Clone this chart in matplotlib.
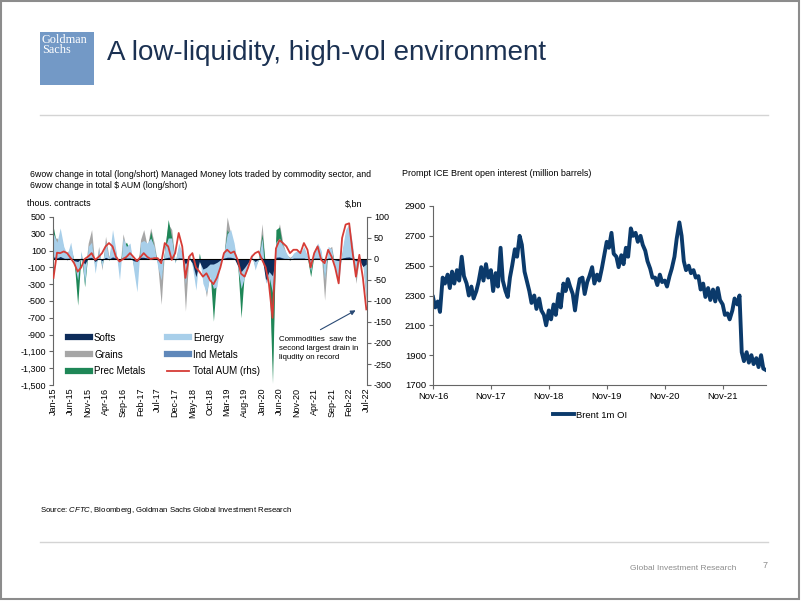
import numpy as np
import pandas as pd
import matplotlib
matplotlib.use("Agg")
import matplotlib.pyplot as plt
import matplotlib.dates as mdates
from matplotlib.lines import Line2D
from matplotlib.patches import Rectangle
from matplotlib.ticker import FuncFormatter

plt.rcParams['font.family'] = ['Liberation Sans', 'DejaVu Sans']
plt.rcParams['mathtext.fontset'] = 'custom'
plt.rcParams['mathtext.rm'] = 'Liberation Sans'
plt.rcParams['mathtext.it'] = 'Liberation Sans:italic'
plt.rcParams['axes.unicode_minus'] = False

# ---- left chart: 6wow change, thous. contracts (monthly reads, Jan-15 .. Jul-22)
months = pd.date_range('2015-01-01', periods=91, freq='MS')

softs = [20, 10, 30, 10, -10, 20, -20, -30, 10, -60,
         10, 20, -30, 10, -20, 20, 0, 20, 10, -20,
         20, 10, 10, -20, -30, 20, 20, 10, 20, 10,
         -10, -20, 10, 20, 20, -10, 10, 10, -60, 10,
         -50, -210, -30, -120, -100, -60, -60, -40, -10, 10,
         20, 20, 10, -80, -150, -100, -40, 10, -30, 0,
         20, -250, -150, -200, 20, 20, 10, 0, -10, 10,
         10, 10, 10, 0, -10, 10, 10, 10, -20, 10,
         10, -10, -20, 10, 20, 20, 10, -20, -20, -90,
         -60]
energy = [300, 200, 370, 150, 50, 200, -40, -250, 100, -300,
          150, 200, -170, 120, -100, 200, 0, 350, 100, -250,
          250, 150, 190, -110, -390, 200, 220, 190, 250, 150,
          -90, -250, 120, 250, 250, -50, 190, 70, -300, 70,
          -90, -370, 50, -290, -400, -210, -350, -330, -50, 70,
          300, 350, 190, -90, -350, -210, -90, 70, -130, 0,
          250, -290, -200, -400, 200, 250, 150, 70, 0, 70,
          100, 70, 150, 30, -150, 100, 190, 100, -250, 150,
          120, -130, -290, 100, 350, 420, 190, -200, 30, -60,
          -450]
grains = [250, 250, 200, 100, 70, 150, -30, -350, 60, -200,
          190, 350, -120, 150, -130, 270, 20, 250, 80, -150,
          300, 120, 150, -80, -200, 230, 350, 150, 370, 190,
          -60, -540, 150, 420, 350, -30, 150, 50, -620, 50,
          -70, -250, 40, -200, -450, -150, -500, -250, -30, 50,
          500, 300, 150, -60, -450, -150, -60, 50, -100, 20,
          420, -150, -150, -1250, 250, 420, 190, 50, 20, 50,
          80, 50, 120, 20, -120, 80, 150, 80, -490, 120,
          150, -100, -200, 80, 300, 350, 150, -290, 20, -50,
          -530]
ind_metals = [30, 20, 20, 10, 10, 20, -10, -20, 10, -30,
              20, 20, -20, 10, -10, 20, 0, 30, 10, -20,
              20, 10, 20, -10, -20, 20, 20, 10, 20, 10,
              -10, -20, 10, 20, 20, 0, 20, 10, -30, 10,
              -20, -40, 10, -40, -40, -30, -40, -20, -10, 10,
              20, 20, 10, -20, -30, -20, -10, 10, -10, 0,
              20, -30, -30, -60, 20, 30, 10, 10, 0, 10,
              10, 10, 10, 0, -10, 10, 10, 10, -20, 10,
              10, -10, -20, 10, 20, 30, 10, -20, 0, -20,
              -30]
prec_metals = [370, 150, 300, 120, 40, 120, -20, -550, 80, -330,
               100, 150, -100, 80, -80, 150, -20, 200, 60, -100,
               150, 200, 100, -60, -150, 150, 200, 100, 330, 120,
               -50, -200, 100, 470, 250, -40, 120, 40, -250, 50,
               -60, -200, 70, -150, -300, -120, -740, -200, -40, 40,
               350, 250, 120, -50, -700, -120, -50, 40, -80, -10,
               300, -100, -100, -1480, 350, 380, 120, 40, -10, 40,
               60, 40, 80, 10, -210, 60, 120, 60, -200, 80,
               100, -80, -150, 60, 250, 400, 120, -150, 10, -40,
               -300]
total_aum = [-45, 15, 14, 18, 14, 2, -10, -30, -20, 0,
             6, 14, -2, 5, 14, 30, 38, 30, 5, -6,
             0, 5, 14, 5, -5, 5, 14, 5, 0, 2,
             2, -10, 38, 30, -2, 14, 62, 30, -45, 5,
             14, -20, -30, -42, -34, -50, -60, -45, -20, 14,
             22, 14, 18, -2, -35, -42, -20, 5, 14, 18,
             -2, -20, -60, -140, 25, 45, 38, 30, 14, 22,
             22, 14, 38, 22, -20, 14, 30, -2, -10, 22,
             5, -20, -58, 50, 82, 85, 20, -42, 10, -45,
             -120]

# ---- right chart: Brent 1m OI (semi-monthly reads, Nov-16 .. Aug-22)
brent = [2290, 2220, 2260, 2190, 2420, 2380, 2440, 2350, 2460, 2380,
         2470, 2400, 2560, 2430, 2380, 2300, 2360, 2280, 2330, 2390,
         2490, 2400, 2510, 2420, 2470, 2330, 2450, 2360, 2620, 2400,
         2330, 2290, 2420, 2500, 2610, 2560, 2700, 2640, 2460, 2400,
         2330, 2250, 2300, 2210, 2280, 2200, 2170, 2100, 2200, 2140,
         2240, 2170, 2310, 2220, 2380, 2330, 2410, 2360, 2310, 2200,
         2330, 2410, 2420, 2310, 2390, 2430, 2490, 2380, 2440, 2400,
         2480, 2560, 2660, 2620, 2720, 2580, 2560, 2490, 2570, 2510,
         2620, 2560, 2750, 2700, 2720, 2660, 2700, 2640, 2600, 2530,
         2480, 2420, 2420, 2370, 2440, 2390, 2400, 2360, 2430, 2480,
         2560, 2680, 2790, 2700, 2530, 2470, 2500, 2450, 2470, 2420,
         2430, 2340, 2380, 2290, 2350, 2270, 2340, 2260, 2350, 2270,
         2240, 2170, 2180, 2140, 2200, 2280, 2240, 2300, 1920, 1860,
         1920, 1850, 1900, 1840, 1880, 1820, 1900, 1810, 1800]
brent_dates = pd.date_range('2016-11-01', periods=len(brent), freq='SMS')

W, H = 802, 601
fig = plt.figure(figsize=(W / 100, H / 100), dpi=100)


def fx(x):
    return x / W


def fy(y):
    return 1 - y / H


navy = '#1b3152'
# slide frame, header, rules
fig.add_artist(Rectangle((fx(1), fy(599)), fx(798), 598 / H, transform=fig.transFigure,
                         fill=False, ec='#8c8c8c', lw=1.5))
fig.add_artist(Rectangle((fx(40), fy(85)), 54 / W, 53 / H, transform=fig.transFigure,
                         fc='#7399c6', ec='none'))
fig.text(fx(42), fy(34), 'Goldman\nSachs', color='white', fontsize=8.8,
         family='Liberation Serif', va='top', ha='left', linespacing=0.8)
fig.text(fx(107), fy(53), 'A low-liquidity, high-vol environment', fontsize=20,
         color=navy, va='center', ha='left')
for yy in (115, 542):
    fig.add_artist(Line2D([fx(40), fx(768)], [fy(yy), fy(yy)], color='#d4d4d4', lw=1))

fig.text(fx(40), fy(511), r'Source: $\it{CFTC}$, Bloomberg, Goldman Sachs Global Investment Research',
         fontsize=5.6, va='center')
fig.text(fx(630), fy(568), 'Global Investment Research', fontsize=6, color='#8c8c8c', va='center')
fig.text(fx(763), fy(566), '7', fontsize=6.5, color='#8c8c8c', va='center')

# ---- left chart
fig.text(fx(30), fy(180), '6wow change in total (long/short) Managed Money lots traded by commodity sector, and\n'
         r'6wow change in total \$ AUM (long/short)', fontsize=6.3, va='center', linespacing=1.25)
fig.text(fx(27), fy(204), 'thous. contracts', fontsize=6.5, va='center')
fig.text(fx(345), fy(204), r'\$,bn', fontsize=6.5, va='center')

c_softs, c_energy, c_grains = '#0d2c5a', '#a8cfea', '#a6a6a6'
c_ind, c_prec, c_aum = '#5f88ba', '#1e8757', '#d63c36'

ax1 = fig.add_axes([fx(53), fy(385), 314 / W, 168 / H])
ax1.fill_between(months, 0, grains, color=c_grains, lw=0)
ax1.fill_between(months, 0, prec_metals, color=c_prec, lw=0)
ax1.fill_between(months, 0, energy, color=c_energy, lw=0)
ax1.fill_between(months, 0, ind_metals, color=c_ind, lw=0)
ax1.fill_between(months, 0, softs, color=c_softs, lw=0)
ax1.axhline(0, color='black', lw=0.8)
ax1.set_ylim(-1500, 500)
ax1.set_yticks(range(-1500, 501, 200))
ax1.yaxis.set_major_formatter(FuncFormatter(lambda v, p: f'{v:,.0f}'))
ax1.set_xlim(months[0] - pd.Timedelta(days=4), months[-1] + pd.Timedelta(days=6))
ax1.set_xticks(months[::5])
ax1.xaxis.set_major_formatter(mdates.DateFormatter('%b-%y'))
ax1.tick_params(axis='x', length=0, labelsize=6.5, labelrotation=90, pad=2)
ax1.tick_params(axis='y', length=3, labelsize=6.5, color='#666666', pad=2)
for s in ('top', 'bottom', 'right'):
    ax1.spines[s].set_visible(False)
ax1.spines['left'].set_color('#666666')

ax2 = ax1.twinx()
ax2.plot(months, total_aum, color=c_aum, lw=1.3)
ax2.set_ylim(-300, 100)
ax2.set_yticks(range(-300, 101, 50))
ax2.tick_params(axis='y', length=3, labelsize=6.5, color='#666666', pad=2)
for s in ('top', 'bottom', 'left'):
    ax2.spines[s].set_visible(False)
ax2.spines['right'].set_color('#666666')

handles = [Line2D([], [], color=c_softs, lw=4.5), Line2D([], [], color=c_grains, lw=4.5),
           Line2D([], [], color=c_prec, lw=4.5), Line2D([], [], color=c_energy, lw=4.5),
           Line2D([], [], color=c_ind, lw=4.5), Line2D([], [], color=c_aum, lw=1.3)]
labels = ['Softs', 'Grains', 'Prec Metals', 'Energy', 'Ind Metals', 'Total AUM (rhs)']
ax2.legend(handles, labels, ncol=2, frameon=False, fontsize=7, loc='upper left',
           bbox_to_anchor=(fx(60), fy(325)), bbox_transform=fig.transFigure,
           handlelength=2.3, columnspacing=2.2, labelspacing=0.7, handletextpad=0.4,
           borderpad=0.3)

fig.text(fx(279), fy(336), 'Commodities  saw the\nsecond largest drain in\nliqudity on record',
         fontsize=5.7, va='top', linespacing=1.45)
ax2.annotate('', xy=(fx(358), fy(309)), xytext=(fx(318), fy(331)),
             xycoords='figure fraction', textcoords='figure fraction',
             arrowprops=dict(arrowstyle='-|>', color='#2a4a75', lw=0.8, mutation_scale=7))

# ---- right chart
fig.text(fx(402), fy(173), 'Prompt ICE Brent open interest (million barrels)', fontsize=6.5, va='center')
c_brent = '#0b3a6b'
ax3 = fig.add_axes([fx(433), fy(385), 333 / W, 179 / H])
ax3.plot(brent_dates, brent, color=c_brent, lw=2.8, label='Brent 1m OI')
ax3.set_ylim(1700, 2900)
ax3.set_yticks(range(1700, 2901, 200))
ax3.set_xlim(pd.Timestamp('2016-11-01'), pd.Timestamp('2022-08-01'))
ax3.set_xticks(pd.date_range('2016-11-01', periods=6, freq='12MS'))
ax3.xaxis.set_major_formatter(mdates.DateFormatter('%b-%y'))
ax3.tick_params(axis='both', length=3, labelsize=6.8, color='#666666', pad=2)
for s in ('top', 'right'):
    ax3.spines[s].set_visible(False)
for s in ('left', 'bottom'):
    ax3.spines[s].set_color('#666666')
ax3.legend(frameon=False, fontsize=6.8, loc='center', bbox_to_anchor=(fx(590), fy(415)),
           bbox_transform=fig.transFigure, handlelength=2.2, handletextpad=0.2)

fig.savefig('out.png', dpi=100)
